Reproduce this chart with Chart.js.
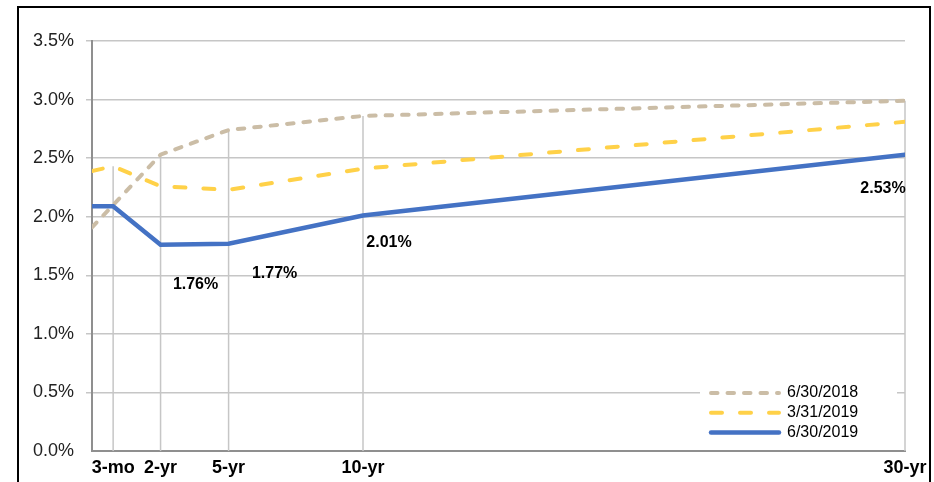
<!DOCTYPE html>
<html><head><meta charset="utf-8">
<script src="https://cdn.jsdelivr.net/npm/chart.js@4"></script>
<style>
html,body{margin:0;padding:0;background:#fff;}
#wrap{position:relative;width:934px;height:482px;overflow:hidden;}
#frame{position:absolute;left:17px;top:6px;width:914px;height:490px;border:2px solid #000;border-bottom:none;box-sizing:border-box;pointer-events:none;}
</style></head><body>
<div id="wrap"><canvas id="c" width="934" height="482"></canvas><div id="frame"></div></div>
<script>
// ---- data ----
const categories = ['', '3-mo', '2-yr', '5-yr', '10-yr', '30-yr'];
const maturityX  = [0, 0.78, 2.53, 5.04, 10, 30];
const seriesLabels = ['6/30/2018', '3/31/2019', '6/30/2019'];
const jun2018 = [1.91, 2.10, 2.53, 2.74, 2.86, 2.99];
const mar2019 = [2.39, 2.43, 2.26, 2.23, 2.41, 2.81];
const jun2019 = [2.09, 2.09, 1.76, 1.77, 2.01, 2.53];
const labeledPoints = [2, 3, 4, 5];
const yMin = 0, yMax = 3.5, yStep = 0.5;

const FONT = "'Liberation Sans', Arial, sans-serif";
const toPts = arr => maturityX.map((x, i) => ({x: x, y: arr[i]}));

const dropLines = {
  id: 'dropLines',
  beforeDatasetsDraw(chart) {
    const {ctx, scales: {x, y}} = chart;
    ctx.save();
    ctx.strokeStyle = '#c6c6c6';
    ctx.lineWidth = 1.5;
    for (let i = 1; i < maturityX.length; i++) {
      const top = Math.max(jun2018[i], mar2019[i], jun2019[i]);
      const px = x.getPixelForValue(maturityX[i]);
      ctx.beginPath();
      ctx.moveTo(px, y.getPixelForValue(top));
      ctx.lineTo(px, y.getPixelForValue(0));
      ctx.stroke();
    }
    ctx.restore();
  }
};

const labelOffsets = {2: [35, 40], 3: [46, 30], 4: [26, 27], 5: [-22, 34]};
const dataLabels = {
  id: 'dataLabels',
  afterDatasetsDraw(chart) {
    const {ctx} = chart;
    const meta = chart.getDatasetMeta(2);
    ctx.save();
    ctx.font = 'bold 16px ' + FONT;
    ctx.fillStyle = '#000';
    ctx.textAlign = 'center';
    ctx.textBaseline = 'middle';
    labeledPoints.forEach(i => {
      const el = meta.data[i];
      const o = labelOffsets[i];
      ctx.fillText(jun2019[i].toFixed(2) + '%', el.x + o[0], el.y + o[1]);
    });
    ctx.restore();
  }
};

const boxLegend = {
  id: 'boxLegend',
  afterDatasetsDraw(chart) {
    const {ctx} = chart;
    ctx.save();
    ctx.fillStyle = '#fff';
    ctx.fillRect(700, 376, 197, 70);
    chart.data.datasets.forEach((ds, i) => {
      const yy = 393 + i * 19.8;
      ctx.strokeStyle = ds.borderColor;
      ctx.lineWidth = ds.borderWidth;
      ctx.lineCap = 'round';
      ctx.setLineDash(ds.borderDash || []);
      ctx.beginPath();
      ctx.moveTo(711, yy);
      ctx.lineTo(779, yy);
      ctx.stroke();
      ctx.setLineDash([]);
      ctx.fillStyle = '#000';
      ctx.font = '16px ' + FONT;
      ctx.textAlign = 'left';
      ctx.textBaseline = 'middle';
      ctx.fillText(ds.label, 787, yy);
    });
    ctx.restore();
  }
};

new Chart(document.getElementById('c'), {
  type: 'line',
  data: {
    datasets: [
      {label: seriesLabels[0], data: toPts(jun2018), borderColor: '#cbbda6', borderWidth: 4,
       borderDash: [6.5, 10], borderCapStyle: 'round', order: 2},
      {label: seriesLabels[1], data: toPts(mar2019), borderColor: '#ffd148', borderWidth: 4,
       borderDash: [11, 18], borderCapStyle: 'round', order: 1},
      {label: seriesLabels[2], data: toPts(jun2019), borderColor: '#4472c4', borderWidth: 4.5,
       borderCapStyle: 'round', order: 0}
    ]
  },
  options: {
    responsive: false,
    animation: false,
    devicePixelRatio: 1,
    elements: {point: {radius: 0, hoverRadius: 0}, line: {tension: 0, borderJoinStyle: 'miter'}},
    layout: {padding: {left: 0, right: 29, top: 41, bottom: 0}},
    plugins: {legend: {display: false}, tooltip: {enabled: false}},
    scales: {
      x: {
        type: 'linear', min: 0, max: 30,
        afterBuildTicks: s => { s.ticks = maturityX.slice(1).map(v => ({value: v})); },
        afterFit: s => { s.height = 31; },
        ticks: {
          autoSkip: false, maxRotation: 0, padding: 6, color: '#000',
          font: {family: FONT, size: 18, weight: 'bold'},
          callback: v => categories[maturityX.indexOf(v)]
        },
        grid: {display: false, drawTicks: false},
        border: {display: true, color: '#8f8f8f', width: 2}
      },
      y: {
        min: yMin, max: yMax,
        afterFit: s => { s.width = 92; },
        ticks: {
          stepSize: yStep, padding: 12, color: '#222',
          font: {family: FONT, size: 18},
          callback: v => v.toFixed(1) + '%'
        },
        grid: {
          color: c => (c.tick && c.tick.value === 0) ? 'rgba(0,0,0,0)' : '#c6c6c6',
          lineWidth: 1.5, tickLength: 6
        },
        border: {display: true, color: '#8f8f8f', width: 2}
      }
    }
  },
  plugins: [dropLines, dataLabels, boxLegend]
});
</script>
</body></html>
